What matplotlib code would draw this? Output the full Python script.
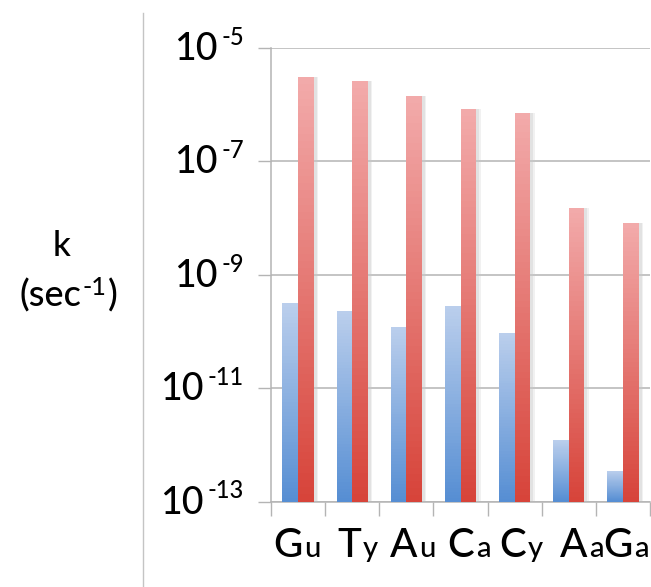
import numpy as np
import matplotlib
matplotlib.use("Agg")
import matplotlib.pyplot as plt
from matplotlib.lines import Line2D
from matplotlib.ticker import NullLocator
from matplotlib.transforms import blended_transform_factory, IdentityTransform

plt.rcParams['font.family'] = ['Lato', 'DejaVu Sans']
plt.rcParams['font.weight'] = 'medium'

# data
bases = ['G', 'T', 'A', 'C', 'C', 'A', 'G']
subs = ['u', 'y', 'u', 'a', 'y', 'a', 'a']
k_blue = [3.1e-10, 2.3e-10, 1.17e-10, 2.8e-10, 9.4e-11, 1.2e-12, 3.5e-13]
k_red = [3.0e-6, 2.6e-6, 1.4e-6, 8.2e-7, 7.2e-7, 1.5e-8, 8.0e-9]
ytick_vals = [1e-13, 1e-11, 1e-9, 1e-7, 1e-5]
ytick_exp = ['-13', '-11', '-9', '-7', '-5']

YMIN, YMAX = 1e-13, 1e-5
W, H = 651, 587
grid_col = '#b4b4b4'
blue_top, blue_bot = np.array([186, 206, 236]) / 255, np.array([86, 142, 211]) / 255
red_top, red_bot = np.array([242, 170, 170]) / 255, np.array([215, 68, 58]) / 255
width = 0.29
# where the big letter ends, relative to the category centre
label_shift = [0.09, 0.16, 0.21, 0.25, 0.21, 0.34, 0.18]

fig = plt.figure(figsize=(W / 100, H / 100), dpi=100)
ax = fig.add_axes([271 / W, 1 - 501.5 / H, 379 / W, 453.8 / H])
ax.set_yscale('log')
ax.set_ylim(YMIN, YMAX)
ax.set_xlim(-0.5, len(bases) - 0.5)


def gradient_bar(xc, val, top, bot, n=60):
    edges = np.geomspace(YMIN, val, n + 1)
    t = np.linspace(0, 1, n)[:, None]
    cols = bot * (1 - t) + top * t
    ax.bar([xc] * n, edges[1:] - edges[:-1], bottom=edges[:-1], width=width,
           color=cols, linewidth=0, antialiased=False, zorder=3)


x = np.arange(len(bases))
for i in x:
    # soft shadow
    for dx, a in [(0.07, 0.25), (0.045, 0.35)]:
        ax.bar(i - width / 2 + dx, k_blue[i] - YMIN, bottom=YMIN, width=width + 0.02,
               color='#c8c8c8', alpha=a, linewidth=0, zorder=2)
        ax.bar(i + width / 2 + dx, k_red[i] - YMIN, bottom=YMIN, width=width + 0.02,
               color='#c8c8c8', alpha=a, linewidth=0, zorder=2)
    gradient_bar(i - width / 2, k_blue[i], blue_top, blue_bot)
    gradient_bar(i + width / 2, k_red[i], red_top, red_bot)

ax.set_yticks(ytick_vals)
ax.set_yticklabels([])
ax.yaxis.set_minor_locator(NullLocator())
ax.set_xticks(np.arange(-0.5, len(bases), 1.0))
ax.set_xticklabels([])
ax.tick_params(axis='y', length=9.4, width=1, color=grid_col)
ax.tick_params(axis='x', length=10, width=1, color=grid_col)
ax.grid(axis='y', color=grid_col, linewidth=1.1, zorder=1)
ax.set_axisbelow(True)
for s in ['top', 'right']:
    ax.spines[s].set_visible(False)
for s in ['left', 'bottom']:
    ax.spines[s].set_color(grid_col)
    ax.spines[s].set_linewidth(1.1)

renderer = fig.canvas.get_renderer()


def rich(xpix, ybase, pieces, align='center'):
    # pieces: (text, fontsize, raise_px, gap_px) laid out left to right; ybase in display px
    items = []
    total = 0
    for s, size, dy, gap in pieces:
        t = fig.text(0, 0, s, fontsize=size, ha='left', va='baseline',
                     transform=IdentityTransform())
        w = t.get_window_extent(renderer).width
        items.append((t, dy, gap, w))
        total += gap + w
    cur = xpix - total / 2 if align == 'center' else xpix - total
    for t, dy, gap, w in items:
        cur += gap
        t.set_position((cur, ybase + dy))
        cur += w


# y tick labels: big "10" with a raised exponent
for v, e in zip(ytick_vals, ytick_exp):
    ygrid = ax.transData.transform((0, v))[1]
    rich(244, ygrid - 12, [('10', 27, 0, 0), (e, 17, 15, 4)], align='right')

trans = blended_transform_factory(ax.transData, ax.transAxes)
for i in x:
    ax.text(i + label_shift[i], -0.1216, bases[i], transform=trans, ha='right',
            va='baseline', fontsize=29, clip_on=False)
    ax.text(i + label_shift[i] + 0.03, -0.1216, subs[i], transform=trans, ha='left',
            va='baseline', fontsize=21, clip_on=False)

rich(62, H - 256, [('k', 25, 0, 0)])
rich(68.5, H - 307, [('(sec', 26, 0, 0), ('-1', 18, 12, 1), (')', 26, 0, 2)])

fig.add_artist(Line2D([143.3 / W] * 2, [0, 1 - 12.7 / H], transform=fig.transFigure,
                      color='#c4c4c4', linewidth=1))

fig.savefig('out.png', dpi=100)
